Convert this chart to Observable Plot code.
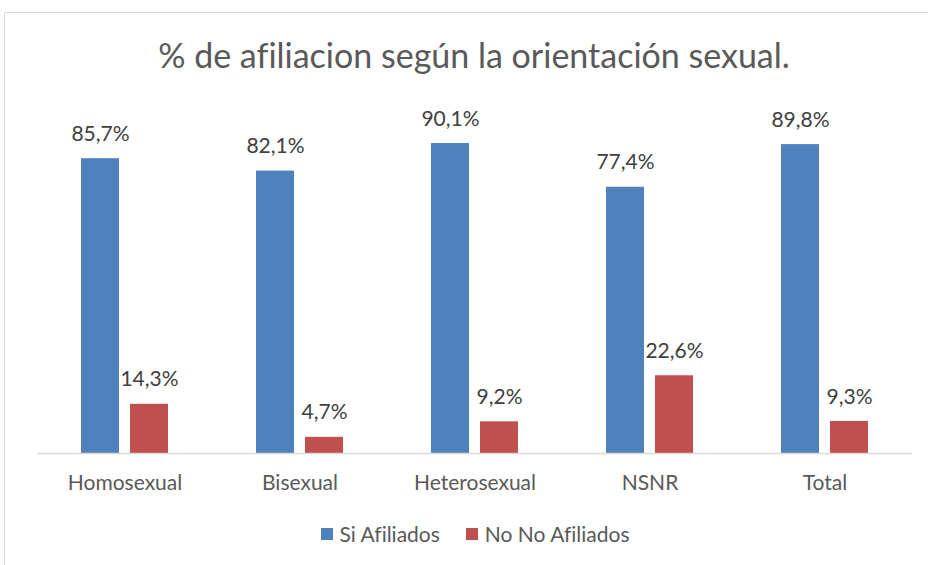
<!DOCTYPE html>
<html>
<head>
<meta charset="utf-8">
<script src="https://cdn.jsdelivr.net/npm/d3@7"></script>
<script src="https://cdn.jsdelivr.net/npm/@observablehq/plot@0.6"></script>
<style>
  html, body { margin: 0; padding: 0; background: #fff; }
  #wrap { position: relative; width: 928px; height: 565px; overflow: hidden; font-family: Lato, "Open Sans", sans-serif; font-variant-ligatures: none; }
  #wrap svg, #wrap svg text { font-variant-ligatures: none; }
  #frame { position: absolute; left: 4px; top: 12px; width: 1000px; height: 600px; border: 1px solid #d9d9d9; box-sizing: border-box; }
  #title { position: absolute; left: 0; width: 948px; top: 34px; text-align: center; font-size: 34px; color: #595959; white-space: nowrap; }
  #chart { position: absolute; left: 0; top: 90px; }
  #legend { position: absolute; left: 0; width: 950px; top: 521px; display: flex; justify-content: center; gap: 26px; font-size: 21px; color: #595959; }
  #legend .item { display: flex; align-items: center; gap: 7px; }
  #legend .sw { width: 12px; height: 12px; display: inline-block; }
</style>
</head>
<body>
<div id="wrap">
  <div id="frame"></div>
  <div id="title">% de afiliacion según la orientación sexual.</div>
  <div id="chart"></div>
  <div id="legend"></div>
</div>
<script>
const categories = ["Homosexual", "Bisexual", "Heterosexual", "NSNR", "Total"];
const seriesNames = ["Si Afiliados", "No No Afiliados"];
const siAfiliados = [85.7, 82.1, 90.1, 77.4, 89.8];
const noAfiliados = [14.3, 4.7, 9.2, 22.6, 9.3];
const colors = ["#4F81BD", "#C0504D"];

const data = [];
categories.forEach((c, i) => {
  data.push({cat: c, series: seriesNames[0], value: siAfiliados[i]});
  data.push({cat: c, series: seriesNames[1], value: noAfiliados[i]});
});

const fmt = v => d3.format(".1f")(v).replace(".", ",") + "%";

const plot = Plot.plot({
  width: 928,
  height: 410,
  marginLeft: 36,
  marginRight: 15,
  marginTop: 19,
  marginBottom: 47,
  style: {fontFamily: "Lato, 'Open Sans', sans-serif", background: "transparent"},
  fx: {domain: categories, paddingInner: 0, paddingOuter: 0, label: null, axis: "bottom", tickSize: 0, tickPadding: 22},
  x: {domain: seriesNames, paddingInner: 0.22, paddingOuter: 0.864, axis: null},
  y: {domain: [0, 100], axis: null},
  color: {domain: seriesNames, range: colors},
  marks: [
    Plot.barY(data, {fx: "cat", x: "series", y: "value", fill: "series"}),
    Plot.ruleY([0], {stroke: "#d9d9d9", strokeWidth: 1.5}),
    Plot.text(data, {fx: "cat", x: "series", y: "value", text: d => fmt(d.value), lineAnchor: "bottom", dy: -18, fontSize: 21, fill: "#404040"})
  ]
});
plot.querySelectorAll('g[aria-label="fx-axis tick label"]').forEach(g => {
  g.setAttribute("font-size", 21);
  g.setAttribute("fill", "#595959");
});
document.getElementById("chart").appendChild(plot);

const legend = document.getElementById("legend");
seriesNames.forEach((s, i) => {
  const it = document.createElement("div");
  it.className = "item";
  const sw = document.createElement("span");
  sw.className = "sw";
  sw.style.background = colors[i];
  const t = document.createElement("span");
  t.textContent = s;
  it.appendChild(sw); it.appendChild(t);
  legend.appendChild(it);
});
</script>
</body>
</html>
